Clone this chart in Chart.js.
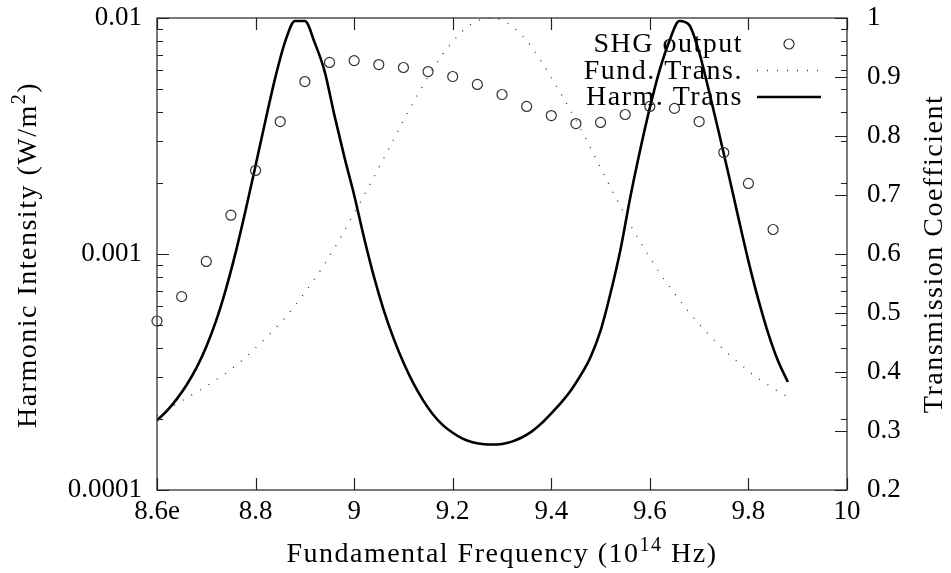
<!DOCTYPE html>
<html>
<head>
<meta charset="utf-8">
<script src="https://cdn.jsdelivr.net/npm/chart.js@4.4.1/dist/chart.umd.min.js"></script>
<style>
  html, body { margin: 0; padding: 0; background: #fff; }
  #wrap { width: 951px; height: 573px; }
</style>
</head>
<body>
<div id="wrap"><canvas id="shgChart" width="951" height="573"></canvas></div>
<script>
// SHG output (left log axis), sampled every 0.05
const shgX = [8.6, 8.65, 8.7, 8.75, 8.8, 8.85, 8.9, 8.95, 9.0, 9.05, 9.1, 9.15, 9.2,
  9.25, 9.3, 9.35, 9.4, 9.45, 9.5, 9.55, 9.6, 9.65, 9.7, 9.75, 9.8, 9.85];
const shgY = [0.00052, 0.00066, 0.00093, 0.00146, 0.00226, 0.00364, 0.00538, 0.00648,
  0.0066, 0.00635, 0.00617, 0.00593, 0.00565, 0.00523, 0.00474, 0.00422, 0.00386,
  0.00357, 0.00361, 0.0039, 0.00422, 0.00414, 0.00364, 0.00269, 0.00199, 0.00127];

// transmission curves (right axis)
const transX = [8.6, 8.62, 8.64, 8.66, 8.68, 8.7, 8.72, 8.74, 8.76, 8.78, 8.8, 8.82, 8.84,
  8.86, 8.88, 8.9, 8.92, 8.94, 8.96, 8.98, 9.0, 9.02, 9.04, 9.06, 9.08, 9.1, 9.12, 9.14,
  9.16, 9.18, 9.2, 9.22, 9.24, 9.26, 9.28, 9.3, 9.32, 9.34, 9.36, 9.38, 9.4, 9.42, 9.44,
  9.46, 9.48, 9.5, 9.52, 9.54, 9.56, 9.58, 9.6, 9.62, 9.64, 9.66, 9.68, 9.7, 9.72, 9.74,
  9.76, 9.78, 9.8, 9.82, 9.84, 9.86, 9.88];
const fundTrans = [0.326, 0.336, 0.346, 0.356, 0.366, 0.376, 0.387, 0.398, 0.411, 0.425,
  0.441, 0.457, 0.474, 0.492, 0.513, 0.535, 0.558, 0.583, 0.61, 0.639, 0.669, 0.699, 0.73,
  0.762, 0.794, 0.826, 0.857, 0.886, 0.914, 0.939, 0.96, 0.978, 0.991, 0.998, 1.0, 0.996,
  0.986, 0.971, 0.951, 0.926, 0.899, 0.871, 0.842, 0.811, 0.779, 0.746, 0.713, 0.681, 0.65,
  0.621, 0.594, 0.568, 0.544, 0.522, 0.501, 0.481, 0.463, 0.446, 0.43, 0.416, 0.402, 0.389,
  0.378, 0.367, 0.358];
const harmTrans = [0.318, 0.334, 0.354, 0.378, 0.407, 0.443, 0.487, 0.541, 0.604, 0.675,
  0.75, 0.826, 0.899, 0.96, 0.995, 0.995, 0.958, 0.91, 0.835, 0.765, 0.7, 0.628, 0.562,
  0.505, 0.457, 0.416, 0.381, 0.352, 0.328, 0.31, 0.297, 0.287, 0.281, 0.278, 0.277, 0.278,
  0.282, 0.289, 0.299, 0.313, 0.33, 0.348, 0.369, 0.395, 0.426, 0.47, 0.533, 0.606, 0.695,
  0.775, 0.848, 0.912, 0.962, 0.995, 0.988, 0.942, 0.876, 0.806, 0.734, 0.66, 0.588, 0.523,
  0.466, 0.419, 0.383];

const seriesNames = ['SHG output', 'Fund. Trans.', 'Harm. Trans'];
const xTicks = [8.6, 8.8, 9, 9.2, 9.4, 9.6, 9.8, 10];
const xTickLabels = ['8.6e', '8.8', '9', '9.2', '9.4', '9.6', '9.8', '10'];
const yTicks = [0.0001, 0.001, 0.01];
const yTickLabels = ['0.0001', '0.001', '0.01'];
const y2Ticks = [0.2, 0.3, 0.4, 0.5, 0.6, 0.7, 0.8, 0.9, 1];
const y2TickLabels = ['0.2', '0.3', '0.4', '0.5', '0.6', '0.7', '0.8', '0.9', '1'];

const FAMILY = '"Liberation Serif", "DejaVu Serif", serif';
const FS = 27;   // tick labels
const TS = 28;   // titles and legend

function pts(xs, ys) {
  return xs.map((x, i) => ({ x: x, y: ys[i] }));
}

// draws a line of text with optional superscript pieces, centred at cx,cy
function richText(ctx, parts, cx, cy, rot) {
  ctx.save();
  ctx.translate(cx, cy);
  ctx.rotate(rot);
  ctx.fillStyle = '#000';
  ctx.textBaseline = 'middle';
  ctx.textAlign = 'left';
  ctx.letterSpacing = '1.5px';
  let w = 0;
  parts.forEach(p => {
    ctx.font = (p.sup ? 20 : TS) + 'px ' + FAMILY;
    w += ctx.measureText(p.t).width;
  });
  let x = -w / 2;
  parts.forEach(p => {
    ctx.font = (p.sup ? 20 : TS) + 'px ' + FAMILY;
    ctx.fillText(p.t, x, p.sup ? -9 : 0);
    x += ctx.measureText(p.t).width;
  });
  ctx.restore();
}

const gnuplotDecor = {
  id: 'gnuplotDecor',
  afterDraw(chart) {
    const ctx = chart.ctx;
    const a = chart.chartArea;
    const sx = chart.scales.x, sy = chart.scales.y, sy2 = chart.scales.y2;
    ctx.save();
    ctx.strokeStyle = '#222';
    ctx.lineWidth = 1.2;
    ctx.setLineDash([]);
    ctx.strokeRect(a.left, a.top, a.right - a.left, a.bottom - a.top);

    ctx.beginPath();
    xTicks.forEach(v => {
      const p = Math.round(sx.getPixelForValue(v)) + 0.5;
      ctx.moveTo(p, a.bottom); ctx.lineTo(p, a.bottom - 12);
      ctx.moveTo(p, a.top); ctx.lineTo(p, a.top + 12);
    });
    yTicks.forEach(v => {
      const p = Math.round(sy.getPixelForValue(v)) + 0.5;
      ctx.moveTo(a.left, p); ctx.lineTo(a.left + 12, p);
      ctx.moveTo(a.right, p); ctx.lineTo(a.right - 12, p);
    });
    [0.0001, 0.001].forEach(d => {
      for (let m = 2; m <= 9; m++) {
        const p = Math.round(sy.getPixelForValue(m * d)) + 0.5;
        ctx.moveTo(a.left, p); ctx.lineTo(a.left + 6, p);
        ctx.moveTo(a.right, p); ctx.lineTo(a.right - 6, p);
      }
    });
    y2Ticks.forEach(v => {
      const p = Math.round(sy2.getPixelForValue(v)) + 0.5;
      ctx.moveTo(a.right, p); ctx.lineTo(a.right - 12, p);
    });
    ctx.stroke();

    // legend, text right aligned with sample after it
    ctx.font = TS + 'px ' + FAMILY;
    ctx.letterSpacing = '1.5px';
    ctx.fillStyle = '#000';
    ctx.textAlign = 'right';
    ctx.textBaseline = 'middle';
    chart.data.datasets.forEach((ds, i) => {
      const y = 44 + 26.5 * i;
      ctx.fillText(ds.label, 743, y + 1);
      if (i === 0) {
        ctx.beginPath();
        ctx.lineWidth = 1.2;
        ctx.strokeStyle = '#333';
        ctx.arc(789, y, 5, 0, Math.PI * 2);
        ctx.stroke();
      } else {
        ctx.beginPath();
        ctx.lineWidth = ds.borderWidth;
        ctx.strokeStyle = ds.borderColor;
        ctx.setLineDash(ds.borderDash || []);
        ctx.moveTo(757, y); ctx.lineTo(821, y);
        ctx.stroke();
        ctx.setLineDash([]);
      }
    });
    ctx.restore();

    richText(ctx, [{ t: 'Fundamental Frequency (10' }, { t: '14', sup: true }, { t: ' Hz)' }],
      (a.left + a.right) / 2, 555, 0);
    richText(ctx, [{ t: 'Harmonic Intensity (W/m' }, { t: '2', sup: true }, { t: ')' }],
      29, 255, -Math.PI / 2);
    richText(ctx, [{ t: 'Transmission Coefficient' }], 935, 254, -Math.PI / 2);
  }
};

function noPadV(s, w) {
  s.width = w;
  s.paddingTop = 0;
  s.paddingBottom = 0;
}

const ctx = document.getElementById('shgChart').getContext('2d');
const shgChart = new Chart(ctx, {
  type: 'line',
  data: {
    datasets: [{
      label: seriesNames[0],
      data: pts(shgX, shgY),
      yAxisID: 'y',
      showLine: false,
      pointStyle: 'circle',
      pointRadius: 5,
      pointBorderWidth: 1.2,
      pointBorderColor: '#333',
      pointBackgroundColor: 'rgba(0,0,0,0)',
      borderColor: '#333',
      clip: false
    }, {
      label: seriesNames[1],
      data: pts(transX, fundTrans),
      yAxisID: 'y2',
      borderColor: '#333',
      borderWidth: 1.3,
      borderDash: [1, 9],
      pointRadius: 0,
      cubicInterpolationMode: 'monotone'
    }, {
      label: seriesNames[2],
      data: pts(transX, harmTrans),
      yAxisID: 'y2',
      borderColor: '#000',
      borderWidth: 2.6,
      pointRadius: 0,
      cubicInterpolationMode: 'monotone'
    }]
  },
  options: {
    responsive: false,
    animation: false,
    layout: { padding: { top: 18, left: 0, right: 0, bottom: 0 } },
    plugins: {
      legend: { display: false },
      tooltip: { enabled: false }
    },
    scales: {
      x: {
        type: 'linear',
        min: 8.6,
        max: 10,
        grid: { display: false, drawTicks: false },
        border: { display: false },
        afterBuildTicks: s => { s.ticks = xTicks.map(v => ({ value: v })); },
        afterFit: s => { s.height = 83; s.paddingLeft = 0; s.paddingRight = 0; },
        ticks: {
          autoSkip: false,
          maxRotation: 0,
          padding: 6,
          color: '#000',
          font: { family: FAMILY, size: FS },
          callback: (v) => xTickLabels[xTicks.indexOf(v)]
        }
      },
      y: {
        type: 'logarithmic',
        position: 'left',
        min: 0.0001,
        max: 0.01,
        grid: { display: false, drawTicks: false },
        border: { display: false },
        afterBuildTicks: s => { s.ticks = yTicks.map(v => ({ value: v })); },
        afterFit: s => noPadV(s, 157),
        ticks: {
          autoSkip: false,
          padding: 15,
          color: '#000',
          font: { family: FAMILY, size: FS },
          callback: (v) => yTickLabels[yTicks.indexOf(v)]
        }
      },
      y2: {
        type: 'linear',
        position: 'right',
        min: 0.2,
        max: 1,
        grid: { display: false, drawTicks: false },
        border: { display: false },
        afterBuildTicks: s => { s.ticks = y2Ticks.map(v => ({ value: v })); },
        afterFit: s => noPadV(s, 104),
        ticks: {
          autoSkip: false,
          padding: 20,
          color: '#000',
          font: { family: FAMILY, size: FS },
          callback: (v) => y2TickLabels[y2Ticks.indexOf(v)]
        }
      }
    }
  },
  plugins: [gnuplotDecor]
});
</script>
</body>
</html>
